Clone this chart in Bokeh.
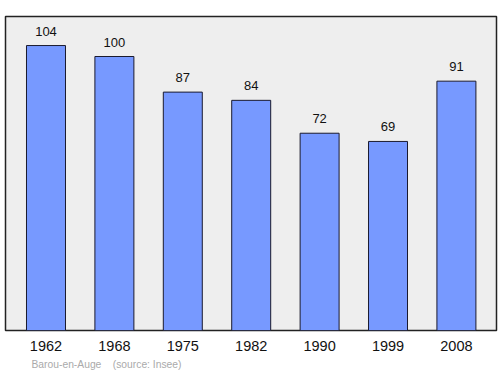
from bokeh.plotting import figure
from bokeh.models import ColumnDataSource, Range1d, FixedTicker, Title
from bokeh.core.properties import value
from bokeh.embed import file_html
from bokeh.resources import INLINE

years = ["1962", "1968", "1975", "1982", "1990", "1999", "2008"]
population = [104, 100, 87, 84, 72, 69, 91]
source_note = "Barou-en-Auge\u00a0\u00a0\u00a0\u00a0(source: Insee)"

xs = list(range(len(years)))
src = ColumnDataSource(dict(x=xs, top=population, label=[str(v) for v in population]))

p = figure(width=500, height=374, output_backend="svg", toolbar_location=None,
           x_range=Range1d(-0.592, 6.586), y_range=Range1d(0, 114.6),
           min_border_left=5, min_border_right=4, min_border_top=16, min_border_bottom=44)

p.background_fill_color = "#eeeeee"
p.border_fill_color = "white"
p.outline_line_color = "#222222"
p.outline_line_width = 1.5
p.xgrid.visible = False
p.ygrid.visible = False
p.yaxis.visible = False

p.vbar(x="x", top="top", width=0.57, source=src, fill_color="#7799ff",
       line_color="#1a1a2e", line_width=1)
p.text(x="x", y="top", text="label", source=src, text_align="center",
       text_baseline="bottom", y_offset=-10, text_font=value("Liberation Sans"),
       text_font_size="13px", text_color="#111111")

ax = p.xaxis[0]
ax.ticker = FixedTicker(ticks=xs)
ax.major_label_overrides = {i: y for i, y in enumerate(years)}
ax.axis_line_color = None
ax.major_tick_line_color = None
ax.minor_tick_line_color = None
ax.major_tick_in = 0
ax.major_tick_out = 0
ax.major_label_standoff = 10
ax.major_label_text_font = "Liberation Sans"
ax.major_label_text_font_size = "14.5px"
ax.major_label_text_color = "#111111"

t = Title(text=source_note, align="left", offset=26, text_font="Liberation Sans",
          text_font_size="10.3px", text_font_style="normal", text_color="#aaaaaa",
          standoff=7)
p.add_layout(t, "below")

open("out.html", "w").write(file_html(p, INLINE))
